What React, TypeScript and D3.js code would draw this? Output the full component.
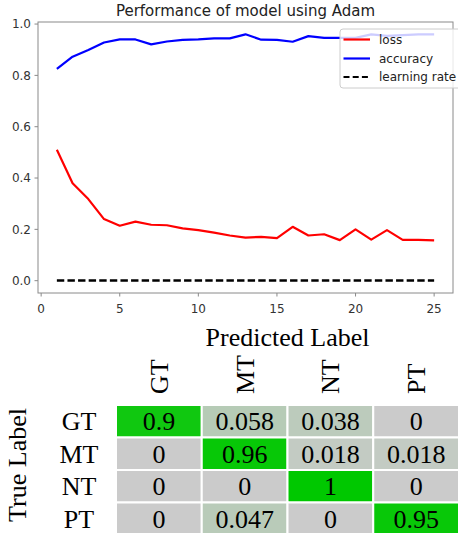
import React from "react";
import * as d3 from "d3";

const epochs = [1,2,3,4,5,6,7,8,9,10,11,12,13,14,15,16,17,18,19,20,21,22,23,24,25];
const lossValues = [0.51,0.38,0.318,0.24,0.214,0.23,0.218,0.216,0.204,0.197,0.187,0.176,0.168,0.171,0.166,0.21,0.176,0.181,0.158,0.2,0.16,0.197,0.159,0.159,0.157];
const accuracyValues = [0.825,0.873,0.899,0.928,0.94,0.94,0.921,0.932,0.938,0.94,0.944,0.944,0.96,0.939,0.938,0.931,0.953,0.946,0.946,0.946,0.96,0.954,0.957,0.96,0.96];
const learningRateValues = [0.001,0.001,0.001,0.001,0.001,0.001,0.001,0.001,0.001,0.001,0.001,0.001,0.001,0.001,0.001,0.001,0.001,0.001,0.001,0.001,0.001,0.001,0.001,0.001,0.001];
const xTicks = [0, 5, 10, 15, 20, 25];
const yTicks = [0.0, 0.2, 0.4, 0.6, 0.8, 1.0];
const chartTitle = "Performance of model using Adam";
const legendLabels = ["loss", "accuracy", "learning rate"];

const classes = ["GT", "MT", "NT", "PT"];
const confusion = [
  [0.9, 0.058, 0.038, 0],
  [0, 0.96, 0.018, 0.018],
  [0, 0, 1, 0],
  [0, 0.047, 0, 0.95],
];
const cellLabels = [
  ["0.9", "0.058", "0.038", "0"],
  ["0", "0.96", "0.018", "0.018"],
  ["0", "0", "1", "0"],
  ["0", "0.047", "0", "0.95"],
];

export default function App() {
  const W = 458, H = 533;
  const left = 38, right = 453, top = 22, bottom = 293;
  const x = d3.scaleLinear().domain([-0.2, 26.2]).range([left, right]);
  const y = d3.scaleLinear().domain([-0.048, 1.008]).range([bottom, top]);
  const line = d3.line<number>().x((_, i) => x(epochs[i])).y((d) => y(d));

  const spine = "#8a8a8a";
  const tickColor = "#333";
  const sans = "DejaVu Sans, sans-serif";
  const serif = "Liberation Serif, Times New Roman, serif";

  const cx = d3.scaleBand<string>().domain(classes).range([116, 459]);
  const cy = d3.scaleBand<string>().domain(classes).range([405, 535]);
  const color = (v: number) => {
    const t = d3.scalePow().exponent(0.8).domain([0, 1]).range([0, 1]).clamp(true)(v);
    return d3.interpolateRgb("#cbcbcb", "#00c800")(t);
  };

  const legendRows = [39.5, 58.5, 77];
  const legendStyles = [
    { stroke: "#ff0000", dash: undefined },
    { stroke: "#0000ff", dash: undefined },
    { stroke: "#000000", dash: "6,3.2" },
  ];

  return (
    <svg width={W} height={H} style={{ position: "absolute", left: 0, top: 0, background: "#fff" }}>
      <rect x={0} y={0} width={W} height={H} fill="#fff" />
      {/* title */}
      <text x={(left + right) / 2} y={16} textAnchor="middle" fontFamily={sans} fontSize={15} fill="#222">
        {chartTitle}
      </text>
      {/* spines */}
      <rect x={left} y={top} width={right - left} height={bottom - top} fill="none" stroke={spine} strokeWidth={1} />
      {/* y ticks */}
      {yTicks.map((t) => (
        <g key={"y" + t}>
          <line x1={left - 3.5} x2={left} y1={y(t)} y2={y(t)} stroke={spine} />
          <text x={left - 7} y={y(t)} dy="0.36em" textAnchor="end" fontFamily={sans} fontSize={12} fill={tickColor}>
            {t.toFixed(1)}
          </text>
        </g>
      ))}
      {/* x ticks */}
      {xTicks.map((t) => (
        <g key={"x" + t}>
          <line x1={x(t)} x2={x(t)} y1={bottom} y2={bottom + 3.5} stroke={spine} />
          <text x={x(t)} y={313} textAnchor="middle" fontFamily={sans} fontSize={12} fill={tickColor}>
            {t}
          </text>
        </g>
      ))}
      {/* lines */}
      <path d={line(lossValues) || ""} fill="none" stroke="#ff0000" strokeWidth={2.2} strokeLinejoin="round" />
      <path d={line(accuracyValues) || ""} fill="none" stroke="#0000ff" strokeWidth={2.2} strokeLinejoin="round" />
      <path d={line(learningRateValues) || ""} fill="none" stroke="#000" strokeWidth={2.4} strokeDasharray="7.4,3.2" />
      {/* legend */}
      <rect x={340} y={29} width={130} height={59} rx={3} fill="#fff" fillOpacity={0.8} stroke="#cccccc" strokeWidth={1} />
      {legendLabels.map((lab, i) => (
        <g key={lab}>
          <line x1={343.5} x2={370} y1={legendRows[i]} y2={legendRows[i]} stroke={legendStyles[i].stroke} strokeWidth={2.2} strokeDasharray={legendStyles[i].dash} />
          <text x={379} y={legendRows[i]} dy="0.36em" fontFamily={sans} fontSize={12} fill="#222">
            {lab}
          </text>
        </g>
      ))}

      {/* confusion matrix */}
      <text x={287.5} y={346} textAnchor="middle" fontFamily={serif} fontSize={26} fill="#000">
        Predicted Label
      </text>
      <text transform={`translate(26,465) rotate(-90)`} textAnchor="middle" fontFamily={serif} fontSize={26} fill="#000">
        True Label
      </text>
      {classes.map((c) => (
        <text key={"col" + c} transform={`translate(${(cx(c) as number) + cx.bandwidth() / 2 + 9},394) rotate(-90)`} textAnchor="start" fontFamily={serif} fontSize={26} fill="#000">
          {c}
        </text>
      ))}
      {classes.map((c) => (
        <text key={"row" + c} x={79} y={(cy(c) as number) + cy.bandwidth() / 2} dy="0.34em" textAnchor="middle" fontFamily={serif} fontSize={26} fill="#000">
          {c}
        </text>
      ))}
      {confusion.map((row, i) =>
        row.map((v, j) => (
          <g key={`c${i}-${j}`}>
            <rect x={cx(classes[j]) as number} y={cy(classes[i]) as number} width={cx.bandwidth()} height={cy.bandwidth()} fill={color(v)} stroke="#fff" strokeWidth={2} />
            <text x={(cx(classes[j]) as number) + cx.bandwidth() / 2} y={(cy(classes[i]) as number) + cy.bandwidth() / 2} dy="0.34em" textAnchor="middle" fontFamily={serif} fontSize={26} fill="#000">
              {cellLabels[i][j]}
            </text>
          </g>
        ))
      )}
    </svg>
  );
}
